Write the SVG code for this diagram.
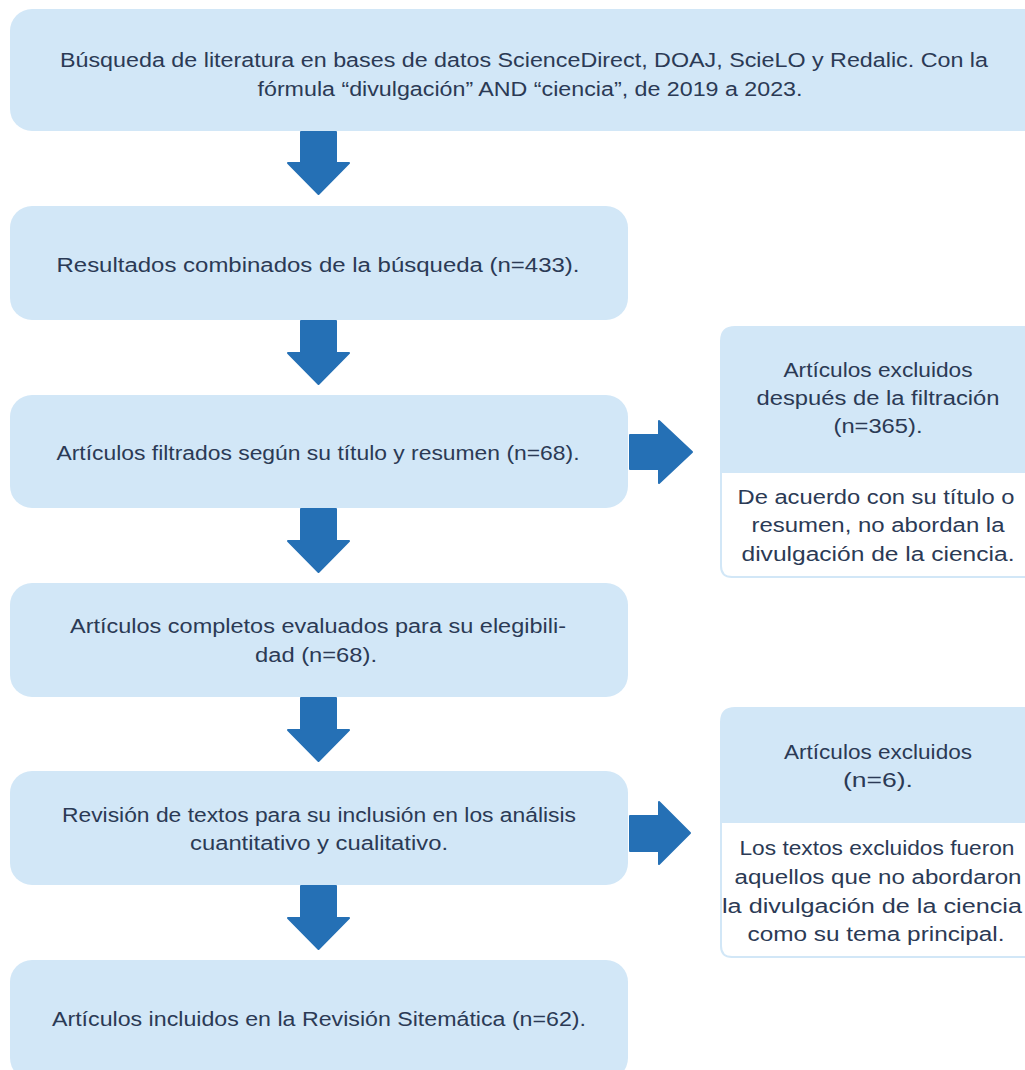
<svg xmlns="http://www.w3.org/2000/svg" width="1025" height="1070" viewBox="0 0 1025 1070">
<style>
.box{fill:#d2e7f7}
.t{font-family:"Liberation Sans",Arial,sans-serif;font-size:20px;fill:#2b3a55;text-anchor:middle}
.arr{fill:#2570b5;stroke:#2570b5;stroke-width:2;stroke-linejoin:round}
.body{fill:#ffffff;stroke:#d2e7f7;stroke-width:2}
</style>
<rect width="1025" height="1070" fill="#ffffff"/>
<g id="connectors">
<path class="arr" d="M301,132 H336 V163 H349 L318.5,194 L288,163 H301 Z"/>
<path class="arr" d="M301,321 H336 V353 H349 L318.5,384 L288,353 H301 Z"/>
<path class="arr" d="M301,509 H336 V541 H349 L318.5,572 L288,541 H301 Z"/>
<path class="arr" d="M301,698 H336 V730 H349 L318.5,761 L288,730 H301 Z"/>
<path class="arr" d="M301,886 H336 V918 H349 L318.5,949 L288,918 H301 Z"/>
<path class="arr" d="M630,435 H659 V421 L692,452 L659,483 V469 H630 Z"/>
<path class="arr" d="M630,816 H659 V802 L690,833 L659,864 V851 H630 Z"/>
</g>
<g id="n1">
<rect class="box" x="10" y="9" width="1040" height="122" rx="22"/>
<text class="t" x="524" y="67" textLength="928" lengthAdjust="spacingAndGlyphs">Búsqueda de literatura en bases de datos ScienceDirect, DOAJ, ScieLO y Redalic. Con la</text>
<text class="t" x="530" y="96" textLength="545" lengthAdjust="spacingAndGlyphs">fórmula “divulgación” AND “ciencia”, de 2019 a 2023.</text>
</g>
<g id="n2">
<rect class="box" x="10" y="206" width="618" height="114" rx="22"/>
<text class="t" x="318" y="272" textLength="523" lengthAdjust="spacingAndGlyphs">Resultados combinados de la búsqueda (n=433).</text>
</g>
<g id="n3">
<rect class="box" x="10" y="395" width="618" height="113" rx="22"/>
<text class="t" x="318" y="460" textLength="523" lengthAdjust="spacingAndGlyphs">Artículos filtrados según su título y resumen (n=68).</text>
</g>
<g id="n4">
<rect class="box" x="10" y="583" width="618" height="114" rx="22"/>
<text class="t" x="318" y="633" textLength="496" lengthAdjust="spacingAndGlyphs">Artículos completos evaluados para su elegibili-</text>
<text class="t" x="316" y="662" textLength="122" lengthAdjust="spacingAndGlyphs">dad (n=68).</text>
</g>
<g id="n5">
<rect class="box" x="10" y="771" width="618" height="114" rx="22"/>
<text class="t" x="319" y="822" textLength="514" lengthAdjust="spacingAndGlyphs">Revisión de textos para su inclusión en los análisis</text>
<text class="t" x="319" y="850" textLength="258" lengthAdjust="spacingAndGlyphs">cuantitativo y cualitativo.</text>
</g>
<g id="n6">
<rect class="box" x="10" y="960" width="618" height="120" rx="22"/>
<text class="t" x="319" y="1026" textLength="534" lengthAdjust="spacingAndGlyphs">Artículos incluidos en la Revisión Sitemática (n=62).</text>
</g>
<g id="r1">
<path class="body" d="M721,460 V566 Q721,577 732,577 H1050 V460 Z"/>
<path class="box" d="M720,473 V341 Q720,326 735,326 H1050 V473 Z"/>
<text class="t" x="878" y="377" textLength="189" lengthAdjust="spacingAndGlyphs">Artículos excluidos</text>
<text class="t" x="878" y="405" textLength="243" lengthAdjust="spacingAndGlyphs">después de la filtración</text>
<text class="t" x="878" y="433" textLength="89" lengthAdjust="spacingAndGlyphs">(n=365).</text>
<text class="t" x="876" y="504" textLength="277" lengthAdjust="spacingAndGlyphs">De acuerdo con su título o</text>
<text class="t" x="878" y="532" textLength="253" lengthAdjust="spacingAndGlyphs">resumen, no abordan la</text>
<text class="t" x="878" y="561" textLength="273" lengthAdjust="spacingAndGlyphs">divulgación de la ciencia.</text>
</g>
<g id="r2">
<path class="body" d="M721,810 V946 Q721,957 732,957 H1050 V810 Z"/>
<path class="box" d="M720,823 V722 Q720,707 735,707 H1050 V823 Z"/>
<text class="t" x="878" y="759" textLength="188" lengthAdjust="spacingAndGlyphs">Artículos excluidos</text>
<text class="t" x="878" y="787" textLength="70" lengthAdjust="spacingAndGlyphs">(n=6).</text>
<text class="t" x="877" y="855" textLength="275" lengthAdjust="spacingAndGlyphs">Los textos excluidos fueron</text>
<text class="t" x="878" y="884" textLength="287" lengthAdjust="spacingAndGlyphs">aquellos que no abordaron</text>
<text class="t" x="872" y="913" textLength="300" lengthAdjust="spacingAndGlyphs">la divulgación de la ciencia</text>
<text class="t" x="876" y="941" textLength="257" lengthAdjust="spacingAndGlyphs">como su tema principal.</text>
</g>
</svg>
